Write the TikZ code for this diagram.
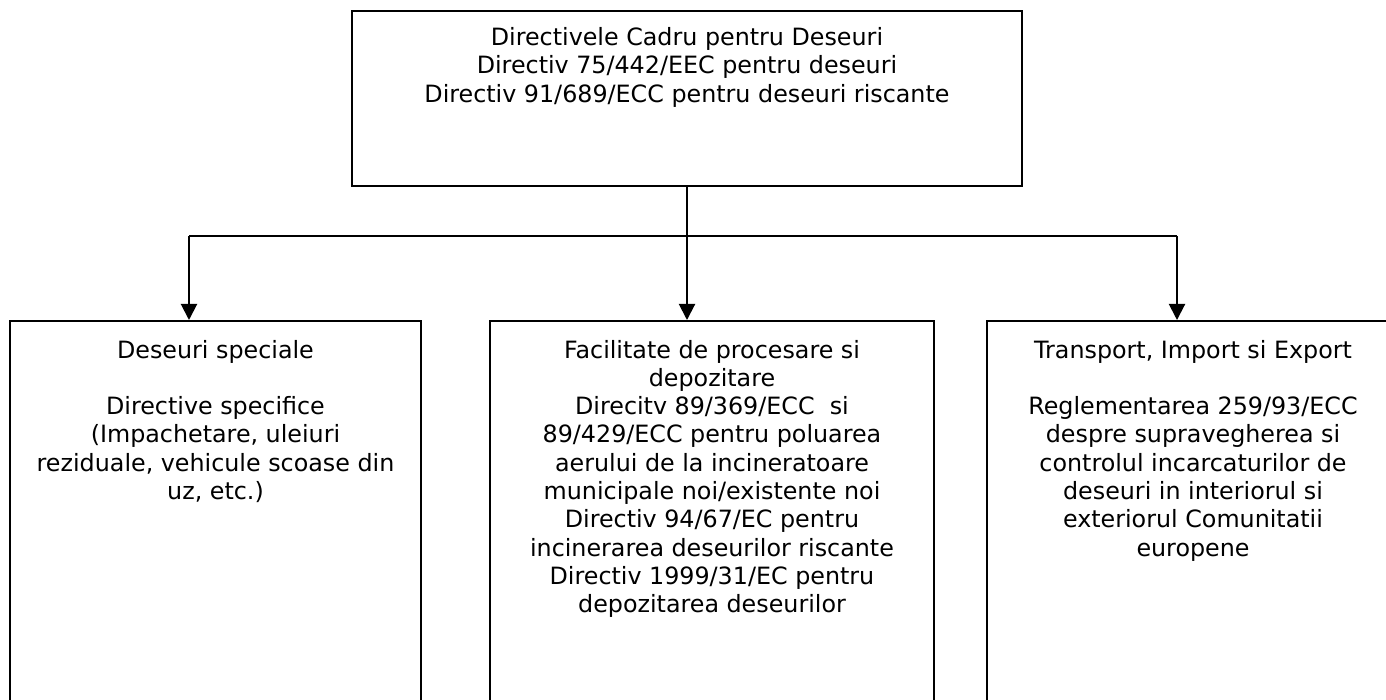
\documentclass[tikz,border=0pt]{standalone}
\usepackage{fontspec}
\setmainfont{DejaVu Sans}
\usetikzlibrary{arrows.meta}
\usetikzlibrary{positioning}

\newcommand{\boxtext}[3]{\parbox[t][#2][t]{#1}{\centering #3}}

\tikzset{
  box/.style={draw, line width=2pt, inner sep=0pt, anchor=north west},
  wire/.style={line width=2pt},
  arr/.style={wire, -{Triangle[width=16pt,length=16pt]}}
}

\begin{document}
\begin{tikzpicture}[x=1pt,y=-1pt]
\clip (0,0) rectangle (1386,700);

% top box
\node[box] (cadru) at (351,10) {\boxtext{670pt}{175pt}{\fontsize{23.8}{28.6}\selectfont\vspace*{16pt}
Directivele Cadru pentru Deseuri\\
Directiv 75/442/EEC pentru deseuri\\
Directiv 91/689/ECC pentru deseuri riscante}};

% lower boxes (cut off at the bottom)
\node[box] (speciale) at (9,320) {\boxtext{411pt}{420pt}{\fontsize{23.8}{28.3}\selectfont\vspace*{19pt}
Deseuri speciale\\[28.3pt]
Directive specifice\\
(Impachetare, uleiuri\\
reziduale, vehicule scoase din\\
uz, etc.)}};

\node[box] (procesare) at (489,320) {\boxtext{444pt}{420pt}{\fontsize{23.8}{28.3}\selectfont\vspace*{19pt}
Facilitate de procesare si\\
depozitare\\
Direcitv 89/369/ECC\ \ si\\
89/429/ECC pentru poluarea\\
aerului de la incineratoare\\
municipale noi/existente noi\\
Directiv 94/67/EC pentru\\
incinerarea deseurilor riscante\\
Directiv 1999/31/EC pentru\\
depozitarea deseurilor}};

\node[box] (transport) at (986,320) {\boxtext{412pt}{420pt}{\fontsize{23.8}{28.3}\selectfont\vspace*{19pt}
Transport, Import si Export\\[28.3pt]
Reglementarea 259/93/ECC\\
despre supravegherea si\\
controlul incarcaturilor de\\
deseuri in interiorul si\\
exteriorul Comunitatii\\
europene}};

% connectors
\coordinate (jl) at (189,236);
\coordinate (jr) at (1177,236);
\draw[wire] (jl) -- (jr);
\draw[arr] (cadru.south) -- (cadru.south |- procesare.north);
\draw[arr] (jl) -- (jl |- speciale.north);
\draw[arr] (jr) -- (jr |- transport.north);
\end{tikzpicture}
\end{document}
